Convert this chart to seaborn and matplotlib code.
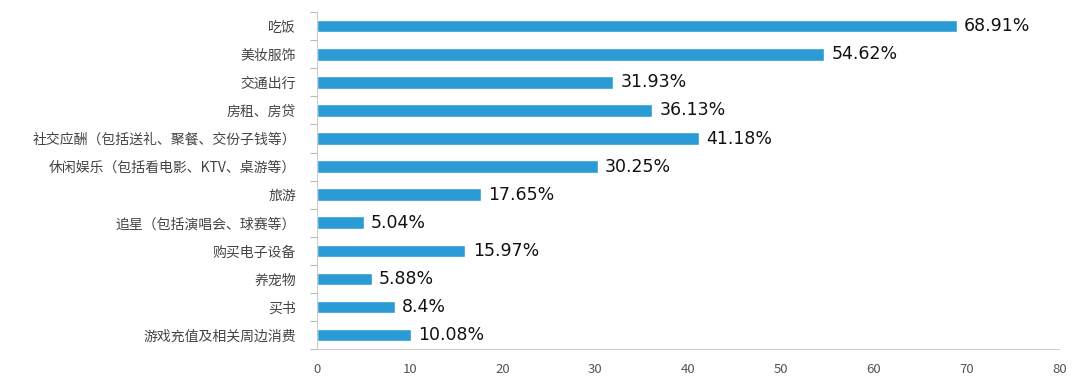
import numpy as np
import pandas as pd
import matplotlib
matplotlib.use("Agg")
import matplotlib.pyplot as plt
import seaborn as sns

categories = ["吃饭", "美妆服饰", "交通出行", "房租、房贷",
              "社交应酬（包括送礼、聚餐、交份子钱等）",
              "休闲娱乐（包括看电影、KTV、桌游等）",
              "旅游", "追星（包括演唱会、球赛等）", "购买电子设备",
              "养宠物", "买书", "游戏充值及相关周边消费"]
values = [68.91, 54.62, 31.93, 36.13, 41.18, 30.25,
          17.65, 5.04, 15.97, 5.88, 8.4, 10.08]
value_labels = ["68.91%", "54.62%", "31.93%", "36.13%", "41.18%", "30.25%",
                "17.65%", "5.04%", "15.97%", "5.88%", "8.4%", "10.08%"]
x_ticks = [0, 10, 20, 30, 40, 50, 60, 70, 80]

sns.set_style("white")
plt.rcParams['font.family'] = ['Noto Sans CJK SC', 'DejaVu Sans']

df = pd.DataFrame({"category": categories, "value": values})

fig = plt.figure(figsize=(10.8, 3.91), dpi=100)
ax = fig.add_axes([0.2935, 0.107, 0.6875, 0.862])

sns.barplot(data=df, x="value", y="category", color="#2A9BD4",
            saturation=1, width=0.45, ax=ax)

for i, (v, lab) in enumerate(zip(values, value_labels)):
    ax.text(v + 0.8, i, lab, va="center", ha="left", fontsize=12.5,
            color="#111111", family=['DejaVu Sans'])

ax.set_xlim(0, 80)
ax.set_ylim(len(categories) - 0.5, -0.5)
ax.set_xticks(x_ticks)
ax.set_xlabel("")
ax.set_ylabel("")
ax.tick_params(axis="x", length=0, labelsize=9.5, colors="#555555", pad=10)
ax.tick_params(axis="y", which="major", length=0, labelsize=10,
               colors="#444444", pad=15)
ax.set_yticks(np.arange(-0.5, len(categories), 1.0), minor=True)
ax.tick_params(axis="y", which="minor", left=True, length=5, width=0.8,
               color="#bbbbbb", direction="out")

for s in ["top", "right"]:
    ax.spines[s].set_visible(False)
ax.spines["left"].set_color("#cccccc")
ax.spines["bottom"].set_color("#d0d0d0")

fig.savefig("out.png", dpi=100)
